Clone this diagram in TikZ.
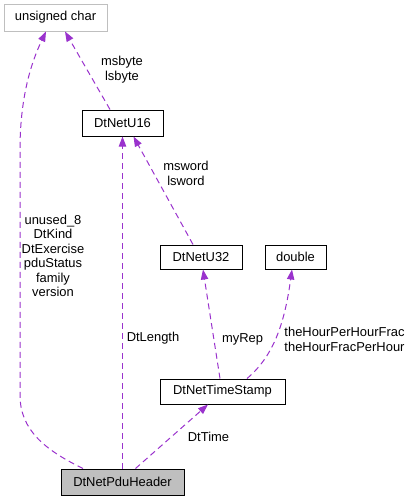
\documentclass[tikz,border=0pt]{standalone}
\usepackage{fontspec}
\setmainfont{Liberation Sans}
\usetikzlibrary{arrows.meta,calc}
\definecolor{edgepurple}{HTML}{9A32CD}
\definecolor{boxgray}{HTML}{BFBFBF}
\begin{document}
\begin{tikzpicture}[x=0.75pt,y=-0.75pt,
  every node/.style={font=\fontsize{9.7}{10.9}\selectfont},
  cls/.style={draw=black,line width=0.75pt,inner sep=0pt,fill=white},
  extcls/.style={draw=boxgray,line width=0.75pt,inner sep=0pt,fill=white},
  curcls/.style={draw=black,line width=0.75pt,inner sep=0pt,fill=boxgray},
  uses/.style={draw=edgepurple,line width=0.75pt,dash pattern=on 4.5pt off 3pt,
    -{Triangle[length=7.5pt,width=5.5pt,fill=edgepurple]}},
  lbl/.style={align=center,inner sep=0pt}]
\useasboundingbox (0,0) rectangle (412,501);

\node[extcls,minimum width=77.25pt,minimum height=20.25pt] (uchar) at (55.5,17.5) {unsigned char};
\node[cls,minimum width=60.75pt,minimum height=19.5pt] (u16) at (122.5,123) {DtNetU16};
\node[cls,minimum width=61.5pt,minimum height=18pt] (u32) at (201,257) {DtNetU32};
\node[cls,minimum width=45.75pt,minimum height=18pt] (dbl) at (295.5,257) {double};
\node[cls,minimum width=93.75pt,minimum height=18.75pt] (ts) at (222.5,391.5) {DtNetTimeStamp};
\node[curcls,minimum width=92.25pt,minimum height=19.5pt] (pdu) at (122.5,482) {DtNetPduHeader};

% edges
\draw[uses] ($(pdu.north)+(-39.5,0)$) .. controls (45,450) and (20,430) .. (20,395)
  -- (20,150) .. controls (20,100) and (30,65) .. ($(uchar.south)+(-9.5,0)$);
\draw[uses] (pdu.north) -- (u16.south);
\draw[uses] ($(pdu.north)+(13,0)$) -- ($(ts.south)+(-14.5,0)$);
\draw[uses] ($(u16.north)+(-12.5,0)$) -- ($(uchar.south)+(9.5,0)$);
\draw[uses] ($(u32.north)+(-8,0)$) -- ($(u16.south)+(11,0)$);
\draw[uses] ($(ts.north)+(-2.5,0)$) -- ($(u32.south)+(2,0)$);
\draw[uses] ($(ts.north)+(24.5,0)$) .. controls (275,355) and (285,320) .. ($(dbl.south)+(-3.5,0)$);

% labels
\node[lbl] (l1) at (122,69.5) {msbyte\\lsbyte};
\node[lbl] (l2) at (186,173.5) {msword\\lsword};
\node[lbl] (l3) at (53,256) {unused\_8\\DtKind\\DtExercise\\pduStatus\\family\\version};
\node[lbl] (l4) at (153,338) {DtLength};
\node[lbl] (l5) at (242.5,339) {myRep};
\node[lbl] (l6) at (344.5,339.5) {theHourPerHourFrac\\theHourFracPerHour};
\node[lbl] (l7) at (208.5,437) {DtTime};
\end{tikzpicture}
\end{document}
